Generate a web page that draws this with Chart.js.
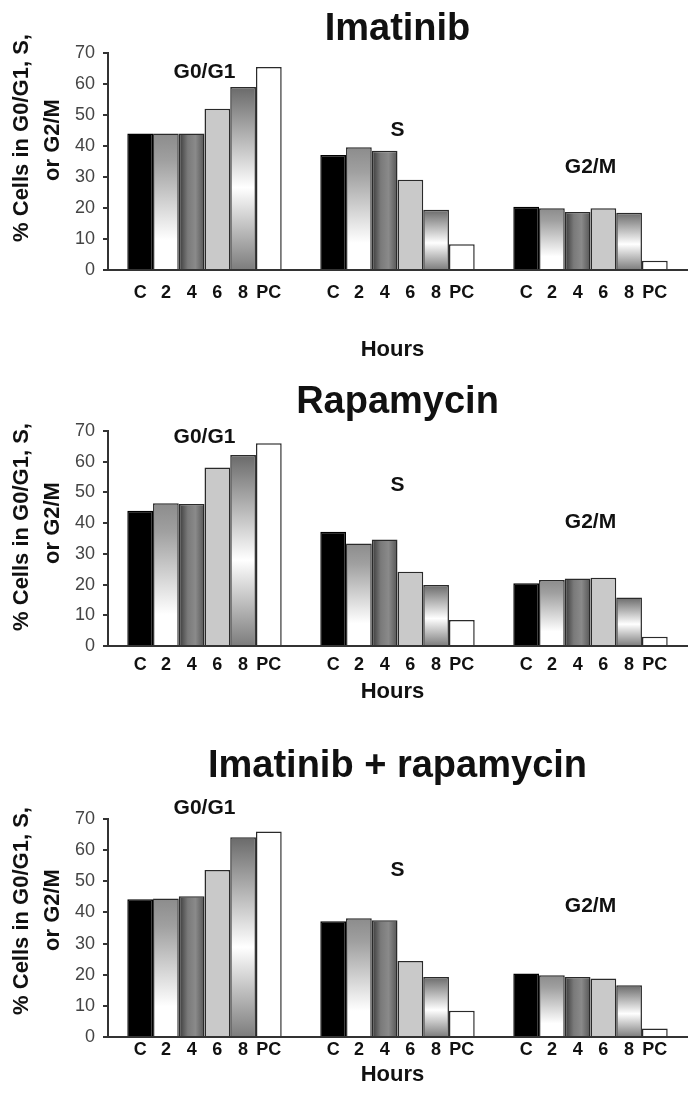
<!DOCTYPE html>
<html><head><meta charset="utf-8">
<script src="https://cdn.jsdelivr.net/npm/chart.js@4.4.1/dist/chart.umd.min.js"></script>
<style>
html,body{margin:0;padding:0;background:#fff;}
#wrap{position:relative;width:698px;height:1094px;overflow:hidden;background:#fff;}
canvas{position:absolute;left:0;}
</style></head><body>
<div id="wrap">
<canvas id="c1" width="698" height="362" style="top:0px"></canvas>
<canvas id="c2" width="698" height="350" style="top:362px"></canvas>
<canvas id="c3" width="698" height="382" style="top:712px"></canvas>
</div>
<script>
// ---- data ----
const phases = ['G0/G1', 'S', 'G2/M'];
const hourLabels = ['C', '2', '4', '6', '8', 'PC'];
const yTicks = [0, 10, 20, 30, 40, 50, 60, 70];
const panelTitles = ['Imatinib', 'Rapamycin', 'Imatinib + rapamycin'];
const yAxisTitle = ['% Cells in G0/G1, S,', 'or G2/M'];
const xAxisTitle = 'Hours';

// values for C, 2, 4, 6, 8, PC within each phase
const imatinibG0G1 = [44, 44, 44, 52, 59, 65.5];
const imatinibS    = [37.1, 39.6, 38.5, 29.1, 19.4, 8.3];
const imatinibG2M  = [20.4, 19.9, 18.7, 19.9, 18.5, 3];

const rapamycinG0G1 = [44, 46.5, 46.2, 58.1, 62.2, 66];
const rapamycinS    = [37.2, 33.4, 34.7, 24.2, 19.9, 8.5];
const rapamycinG2M  = [20.4, 21.5, 22, 22.2, 15.8, 3];

const comboG0G1 = [44.2, 44.5, 45.2, 53.6, 64.1, 66];
const comboS    = [37.2, 38.1, 37.5, 24.4, 19.3, 8.4];
const comboG2M  = [20.4, 19.8, 19.3, 18.8, 16.6, 2.7];

const panelValues = [
  [imatinibG0G1, imatinibS, imatinibG2M],
  [rapamycinG0G1, rapamycinS, rapamycinG2M],
  [comboG0G1, comboS, comboG2M]
];

// ---- layout (pixels, per panel canvas) ----
const layouts = [
  {h: 362, areaTop: 53, areaBottom: 270, titleY: 30, yTitleY: [138, 140], groupY: [72, 130, 167], tickY: 293, hoursY: 350},
  {h: 350, areaTop: 69, areaBottom: 284, titleY: 41, yTitleY: [165, 161], groupY: [75, 123, 160], tickY: 303, hoursY: 330},
  {h: 382, areaTop: 107, areaBottom: 325, titleY: 55, yTitleY: [199, 198], groupY: [96, 158, 194], tickY: 338, hoursY: 363}
];

const FONT = "'Liberation Sans', Arial, Helvetica, sans-serif";
const CAT_PCT = 0.8;

function barFill(c) {
  if (c.type !== 'data') return '#888';
  const ds = c.datasetIndex;
  if (ds === 0) return '#000000';
  if (ds === 3) return '#c9c9c9';
  if (ds === 5) return '#ffffff';
  const chart = c.chart, ys = chart.scales.y, xs = chart.scales.x;
  if (!ys || !xs) return '#999';
  const top = ys.getPixelForValue(c.raw), base = ys.getPixelForValue(0);
  if (!isFinite(top) || !isFinite(base) || base === top) return '#999';
  const ctx = chart.ctx;
  if (ds === 1) {
    const g = ctx.createLinearGradient(0, top, 0, base);
    g.addColorStop(0, '#8c8c8c');
    g.addColorStop(0.2, '#a0a0a0');
    g.addColorStop(0.78, '#ffffff');
    g.addColorStop(1, '#ffffff');
    return g;
  }
  if (ds === 4) {
    const g = ctx.createLinearGradient(0, top, 0, base);
    g.addColorStop(0, '#6a6a6a');
    g.addColorStop(0.55, '#ffffff');
    g.addColorStop(1, '#7c7c7c');
    return g;
  }
  // ds === 2 : horizontal shading
  const n = chart.data.labels.length;
  const catW = xs.width / n;
  const barW = catW * CAT_PCT / chart.data.datasets.length;
  const center = xs.getPixelForValue(c.dataIndex);
  const left = center - catW * CAT_PCT / 2 + ds * barW;
  if (!isFinite(left)) return '#777';
  const g = ctx.createLinearGradient(left, 0, left + barW, 0);
  g.addColorStop(0, '#383838');
  g.addColorStop(0.35, '#7a7a7a');
  g.addColorStop(0.65, '#8a8a8a');
  g.addColorStop(1, '#555555');
  return g;
}

const decor = {
  id: 'decor',
  afterDraw(chart, args, o) {
    const ctx = chart.ctx, a = chart.chartArea, xs = chart.scales.x;
    ctx.save();
    ctx.fillStyle = '#111';
    ctx.textBaseline = 'middle';
    ctx.textAlign = 'center';
    // panel title
    ctx.font = 'bold 38px ' + FONT;
    ctx.fillText(o.title, (a.left + a.right) / 2, o.titleY);
    // group labels
    ctx.font = 'bold 21px ' + FONT;
    phases.forEach((p, j) => ctx.fillText(p, xs.getPixelForValue(j), o.groupY[j]));
    // bar labels
    ctx.font = 'bold 18px ' + FONT;
    chart.data.datasets.forEach((d, i) => {
      chart.getDatasetMeta(i).data.forEach(el => ctx.fillText(hourLabels[i], el.x, o.tickY));
    });
    // x title
    ctx.font = 'bold 22px ' + FONT;
    ctx.fillText(xAxisTitle, (a.left + a.right) / 2 - 5, o.hoursY);
    // y title
    ctx.font = 'bold 22px ' + FONT;
    const xs0 = [22, 53];
    yAxisTitle.forEach((t, k) => {
      ctx.save();
      ctx.translate(xs0[k], o.yTitleY[k]);
      ctx.rotate(-Math.PI / 2);
      ctx.fillText(t, 0, 0);
      ctx.restore();
    });
    ctx.restore();
  }
};

function makeChart(id, idx) {
  const L = layouts[idx];
  const vals = panelValues[idx];
  const datasets = hourLabels.map((h, i) => ({
    label: h,
    data: vals.map(phaseArr => phaseArr[i]),
    backgroundColor: barFill,
    borderColor: i === 0 ? '#000' : '#2a2a2a',
    borderWidth: 1.5,
    borderSkipped: 'bottom',
    categoryPercentage: CAT_PCT,
    barPercentage: 1.0
  }));
  return new Chart(document.getElementById(id), {
    type: 'bar',
    data: {labels: phases, datasets},
    plugins: [decor],
    options: {
      responsive: false,
      animation: false,
      events: [],
      layout: {padding: {top: L.areaTop, right: 11, bottom: 0, left: 0}},
      plugins: {
        legend: {display: false},
        tooltip: {enabled: false},
        title: {display: false},
        decor: Object.assign({title: panelTitles[idx]}, L)
      },
      scales: {
        x: {
          grid: {display: false},
          border: {display: true, color: '#333', width: 2},
          ticks: {display: false},
          afterFit: s => { s.height = L.h - L.areaBottom; }
        },
        y: {
          min: 0, max: 70,
          afterBuildTicks: s => { s.ticks = yTicks.map(v => ({value: v})); },
          ticks: {padding: 8, color: '#444', font: {family: FONT, size: 18}},
          grid: {display: true, drawOnChartArea: false, drawTicks: true, tickLength: 5, color: '#333', lineWidth: 2},
          border: {display: true, color: '#333', width: 2},
          afterFit: s => { s.width = 108; }
        }
      }
    }
  });
}

makeChart('c1', 0);
makeChart('c2', 1);
makeChart('c3', 2);
</script>
</body></html>
